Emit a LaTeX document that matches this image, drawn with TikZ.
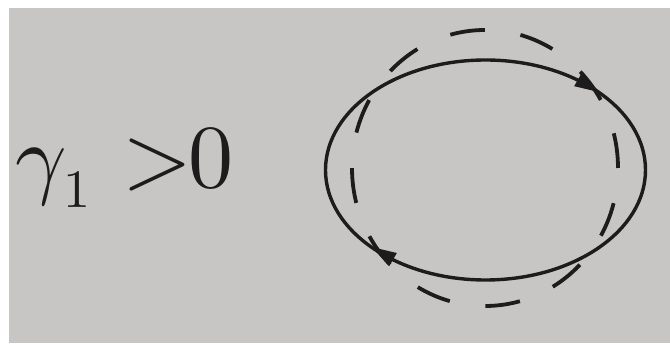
\documentclass[tikz,border=0pt]{standalone}
\usepackage{fontspec}
\usepackage{graphicx}
\definecolor{paper}{RGB}{200,198,196}
\definecolor{ink}{RGB}{28,28,28}
\tikzset{
  solidloop/.style={draw=ink, line width=3.4pt},
  dashloop/.style={draw=ink, line width=3.8pt, dash pattern=on 35pt off 36pt},
  arrowtri/.style={fill=ink, draw=none}
}
\begin{document}
\begin{tikzpicture}[x=1pt,y=1pt]
\useasboundingbox (0,0) rectangle (670,345);
\fill[white] (0,0) rectangle (670,345);
\fill[paper] (9,2) rectangle (670,337);
% label
\node[anchor=base west, inner sep=0pt, text=ink] (lbl) at (15,157)
  {\scalebox{9}{$\gamma$}\hspace{-3pt}\raisebox{-20pt}{\scalebox{5.4}{1}}\hspace{32pt}\scalebox{9}{$>$}\hspace{-4pt}\scalebox{9}{0}};
% dashed loop
\draw[dashloop] (485,177) ellipse [x radius=133, y radius=138];
% solid loop
\draw[solidloop] (485.5,175) ellipse [x radius=160, y radius=110];
% arrowheads
\fill[arrowtri, shift={(588.3,259.3)}, rotate=-30] (13,0) -- (-12,7.5) -- (-12,-7.5) -- cycle;
\fill[arrowtri, shift={(382.7,91.5)}, rotate=150] (13,0) -- (-12,7.5) -- (-12,-7.5) -- cycle;
\end{tikzpicture}
\end{document}
